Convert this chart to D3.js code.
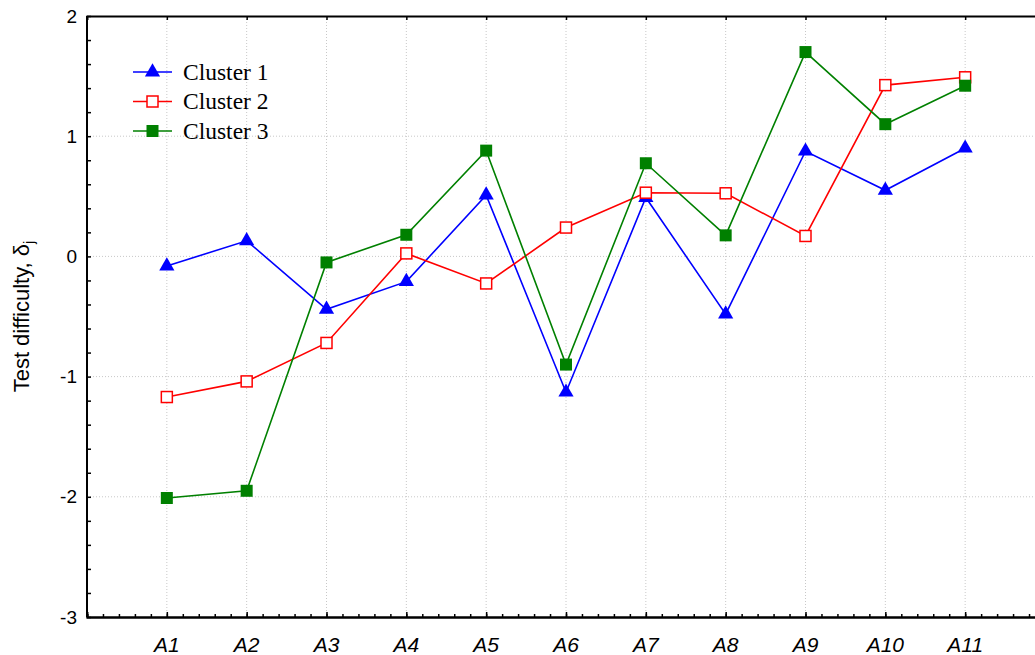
<!DOCTYPE html>
<html>
<head>
<meta charset="utf-8">
<script src="https://cdn.jsdelivr.net/npm/d3@7"></script>
<style>
  body { margin: 0; background: #fff; }
  svg { display: block; }
  .grid line { stroke: #c8c8c8; stroke-dasharray: 1,2; }
</style>
</head>
<body>
<svg id="chart" width="1035" height="655"></svg>
<script>
const categories = ['A1', 'A2', 'A3', 'A4', 'A5', 'A6', 'A7', 'A8', 'A9', 'A10', 'A11'];
const cluster1 = [-0.08, 0.13, -0.44, -0.21, 0.51, -1.13, 0.49, -0.48, 0.875, 0.55, 0.9];
const cluster2 = [-1.17, -1.04, -0.72, 0.025, -0.225, 0.24, 0.53, 0.525, 0.17, 1.425, 1.49];
const cluster3 = [-2.01, -1.95, -0.05, 0.18, 0.88, -0.9, 0.775, 0.175, 1.7, 1.1, 1.42];
const yTicks = [-3, -2, -1, 0, 1, 2];

const series = [
    {name: 'Cluster 1', values: cluster1, color: '#0000ff', marker: 'triangle'},
    {name: 'Cluster 2', values: cluster2, color: '#ff0000', marker: 'open'},
    {name: 'Cluster 3', values: cluster3, color: '#008000', marker: 'square'}
];

const margin = {left: 87, top: 16, right: -10, bottom: 38};
const width = 1035, height = 655;
const svg = d3.select('#chart');
const g = svg.append('g');

// position 0 = left axis, categories at 1..11, axis runs to 12
let xScale = d3.scaleLinear().domain([0, 12])
    .range([margin.left, width - margin.right]);
let yScale = d3.scaleLinear().domain([-3, 2])
    .range([height - margin.bottom, margin.top]);
const xPos = i => xScale(i + 1);

// grid
g.append('g').attr('class', 'grid')
    .selectAll('line.h').data(yTicks.filter(d => d > -3 && d < 2)).enter()
    .append('line')
    .attr('x1', margin.left).attr('x2', width)
    .attr('y1', d => yScale(d)).attr('y2', d => yScale(d));
g.select('.grid')
    .selectAll('line.v').data(categories).enter()
    .append('line')
    .attr('x1', (d, i) => xPos(i)).attr('x2', (d, i) => xPos(i))
    .attr('y1', yScale(2)).attr('y2', yScale(-3));

// axes
const yAxis = d3.axisLeft(yScale).tickValues(yTicks).tickSize(0).tickPadding(10)
    .tickFormat(d => String(d)); // plain hyphen, like the original
const yMinor = d3.axisRight(yScale).ticks(20).tickSize(4).tickFormat('');
const xMinor = d3.axisTop(xScale).ticks(48).tickSize(3).tickFormat('');
const xMajor = d3.axisTop(xScale).tickValues(d3.range(1, 12)).tickSize(5).tickFormat('');
const xTop = d3.axisBottom(xScale).tickValues(d3.range(1, 12)).tickSize(4).tickFormat('');

g.append('g').attr('class', 'x-minor')
    .attr('transform', `translate(0, ${yScale(-3)})`).call(xMinor);
g.append('g').attr('class', 'x-major')
    .attr('transform', `translate(0, ${yScale(-3)})`).call(xMajor);
g.append('g').attr('class', 'x-top')
    .attr('transform', `translate(0, ${yScale(2)})`).call(xTop);
g.append('g').attr('class', 'y-minor')
    .attr('transform', `translate(${margin.left}, 0)`).call(yMinor);
g.append('g').attr('class', 'y-axis')
    .attr('transform', `translate(${margin.left}, 0)`).call(yAxis);

g.selectAll('.domain').attr('stroke', '#000').attr('stroke-width', 2);
g.selectAll('.tick line').attr('stroke', '#000').attr('stroke-width', 1.5);
g.select('.y-axis .domain').remove();
g.select('.y-minor .domain').attr('d', `M0,${yScale(2)}V${yScale(-3)}`);
g.select('.y-axis').selectAll('text')
    .style('font-family', 'Liberation Sans, Arial, sans-serif')
    .style('font-size', '19px').attr('fill', '#000');

// x labels
g.append('g').selectAll('text').data(categories).enter()
    .append('text')
    .attr('x', (d, i) => xPos(i))
    .attr('y', 652)
    .attr('text-anchor', 'middle')
    .style('font-family', 'Liberation Sans, Arial, sans-serif')
    .style('font-size', '21px')
    .style('font-style', 'italic')
    .text(d => d);

// y label
const ylab = g.append('text')
    .attr('transform', `translate(29, ${(yScale(2) + yScale(-3)) / 2}) rotate(-90)`)
    .attr('text-anchor', 'middle')
    .style('font-family', 'Liberation Sans, Arial, sans-serif')
    .style('font-size', '22px');
ylab.append('tspan').text('Test difficulty, δ');
ylab.append('tspan').attr('dy', 5).style('font-size', '15px').text('j');

const line = d3.line().x((d, i) => xPos(i)).y(d => yScale(d));
const tri = d3.symbol().type(d3.symbolTriangle).size(100);

const drawMarker = (sel, s, x, y) => {
    if (s.marker === 'triangle') {
        sel.append('path').attr('d', tri())
            .attr('transform', `translate(${x}, ${y})`)
            .attr('fill', s.color);
    } else if (s.marker === 'open') {
        sel.append('rect').attr('x', x - 5.5).attr('y', y - 5.5)
            .attr('width', 11).attr('height', 11)
            .attr('fill', '#fff').attr('stroke', s.color).attr('stroke-width', 1.5);
    } else {
        sel.append('rect').attr('x', x - 6).attr('y', y - 6)
            .attr('width', 12).attr('height', 12)
            .attr('fill', s.color);
    }
};

series.forEach(s => {
    const sg = g.append('g');
    sg.append('path').datum(s.values)
        .attr('d', line)
        .attr('fill', 'none')
        .attr('stroke', s.color)
        .attr('stroke-width', 1.6);
    s.values.forEach((v, i) => drawMarker(sg, s, xPos(i), yScale(v)));
});

// legend
const legend = g.append('g');
series.forEach((s, i) => {
    const y = 72 + i * 29.5;
    legend.append('line').attr('x1', 133).attr('x2', 172)
        .attr('y1', y).attr('y2', y)
        .attr('stroke', s.color).attr('stroke-width', 1.6);
    drawMarker(legend, s, 152.5, y);
    legend.append('text').attr('x', 183).attr('y', y + 7.5)
        .style('font-family', 'Liberation Serif, Times New Roman, serif')
        .style('font-size', '23.5px')
        .text(s.name);
});
</script>
</body>
</html>
